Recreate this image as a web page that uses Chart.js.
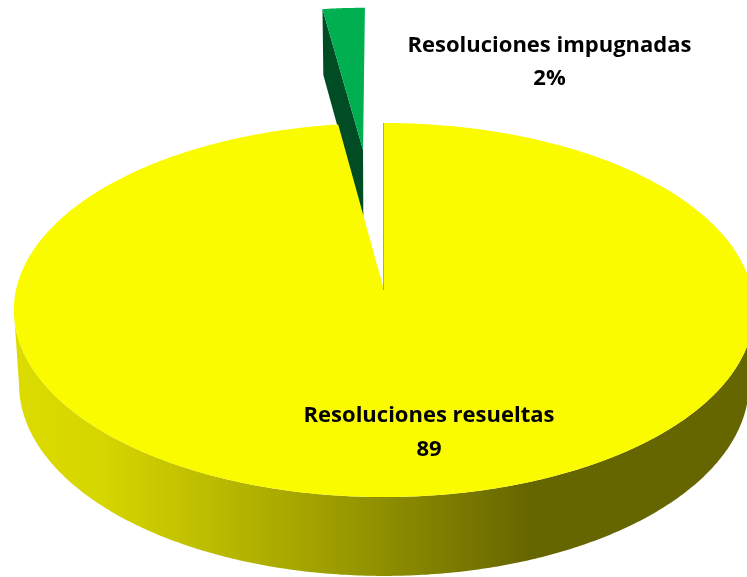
<!DOCTYPE html>
<html>
<head>
<meta charset="utf-8">
<style>html,body{margin:0;padding:0;background:#fff;overflow:hidden}canvas{display:block}</style>
<script src="https://cdn.jsdelivr.net/npm/chart.js@4/dist/chart.umd.js"></script>
</head>
<body>
<canvas id="c" width="747" height="577"></canvas>
<script>
const categories = ['Resoluciones resueltas', 'Resoluciones impugnadas'];
const values = [89, 2];
const valueLabels = ['89', '2%'];
const faceColors = ['#fbfb00', '#00b050'];
const wallColors = [null, '#004d25'];
const explode = [0, 0.826];
const explodeNudge = [0, -0.005];

// perspective of the tilted disc: top rim and bottom rim
const topRim = {x: 384, y: 290, A: 184.9, B: 368};
const botRim = {x: 384, y: 363.4, A: 189.8, B: 362.9};
const K = 0.107;
const labelPos = [[429, 422, 456], [549.5, 52, 85]];
const wallStops = [[14,'#dcdc00'],[100,'#d6d600'],[200,'#bebe00'],[290,'#a8a800'],[400,'#8a8a00'],[530,'#666600'],[747,'#666600']];

function project(rim, u, v) {
  const w = 1 + K * v;
  return [rim.x + rim.B * u / w, rim.y - rim.A * v / w];
}
function rimPoints(rim, a0, a1, du, dv) {
  const n = Math.max(2, Math.ceil(Math.abs(a1 - a0) / 0.01));
  const pts = [];
  for (let i = 0; i <= n; i++) {
    const a = a0 + (a1 - a0) * i / n;
    pts.push(project(rim, du + Math.cos(a), dv - Math.sin(a)));
  }
  return pts;
}
function fillPoly(ctx, pts, fill) {
  ctx.beginPath();
  pts.forEach((p, i) => i ? ctx.lineTo(p[0], p[1]) : ctx.moveTo(p[0], p[1]));
  ctx.closePath();
  ctx.fillStyle = fill;
  ctx.fill();
}

const pie3d = {
  id: 'pie3d',
  beforeDatasetsDraw(chart) {
    const ctx = chart.ctx;
    const arcs = chart.getDatasetMeta(0).data;
    const order = arcs.map((_, i) => i).reverse();
    const side = Math.asin(K);
    ctx.save();
    order.forEach(i => {
      const el = arcs[i];
      const a0 = el.startAngle, a1 = el.endAngle;
      const mid = (a0 + a1) / 2;
      const du = Math.cos(mid) * explode[i] + explodeNudge[i], dv = -Math.sin(mid) * explode[i];
      const apexT = project(topRim, du, dv);
      const apexB = project(botRim, du, dv);
      if (wallColors[i]) {
        // cut wall of the exploded slice
        const left = rimPoints(topRim, a0, a0, du, dv)[0];
        const leftB = rimPoints(botRim, a0, a0, du, dv)[0];
        fillPoly(ctx, [apexT, left, leftB, apexB], wallColors[i]);
      } else {
        // curved front wall, between the two side extremes of the disc
        const s = Math.max(a0, side), e = Math.min(a1, Math.PI - side);
        const g = ctx.createLinearGradient(0, 0, 747, 0);
        wallStops.forEach(st => g.addColorStop(st[0] / 747, st[1]));
        fillPoly(ctx, rimPoints(topRim, s, e, du, dv).concat(rimPoints(botRim, s, e, du, dv).reverse()), g);
      }
      fillPoly(ctx, [apexT].concat(rimPoints(topRim, a0, a1, du, dv)), faceColors[i]);
      if (!wallColors[i]) {
        const p = rimPoints(topRim, a0, a0, du, dv)[0];
        ctx.beginPath();
        ctx.moveTo(apexT[0] - 0.5, apexT[1]);
        ctx.lineTo(p[0] - 0.5, p[1]);
        ctx.strokeStyle = 'rgba(102,102,0,0.55)';
        ctx.lineWidth = 1;
        ctx.stroke();
      }
    });
    ctx.restore();
    return false;
  },
  afterDraw(chart) {
    const ctx = chart.ctx;
    ctx.save();
    ctx.font = 'bold 22px "Open Sans", Lato, sans-serif';
    ctx.fillStyle = '#000';
    ctx.textAlign = 'center';
    ctx.textBaseline = 'alphabetic';
    categories.forEach((name, i) => {
      ctx.fillText(name, labelPos[i][0], labelPos[i][1]);
      ctx.fillText(valueLabels[i], labelPos[i][0], labelPos[i][2]);
    });
    ctx.restore();
  }
};

new Chart(document.getElementById('c'), {
  type: 'pie',
  data: {
    labels: categories,
    datasets: [{data: values, backgroundColor: faceColors, borderWidth: 0}]
  },
  options: {
    responsive: false,
    animation: false,
    rotation: 0,
    plugins: {legend: {display: false}, tooltip: {enabled: false}, title: {display: false}}
  },
  plugins: [pie3d]
});
</script>
</body>
</html>
